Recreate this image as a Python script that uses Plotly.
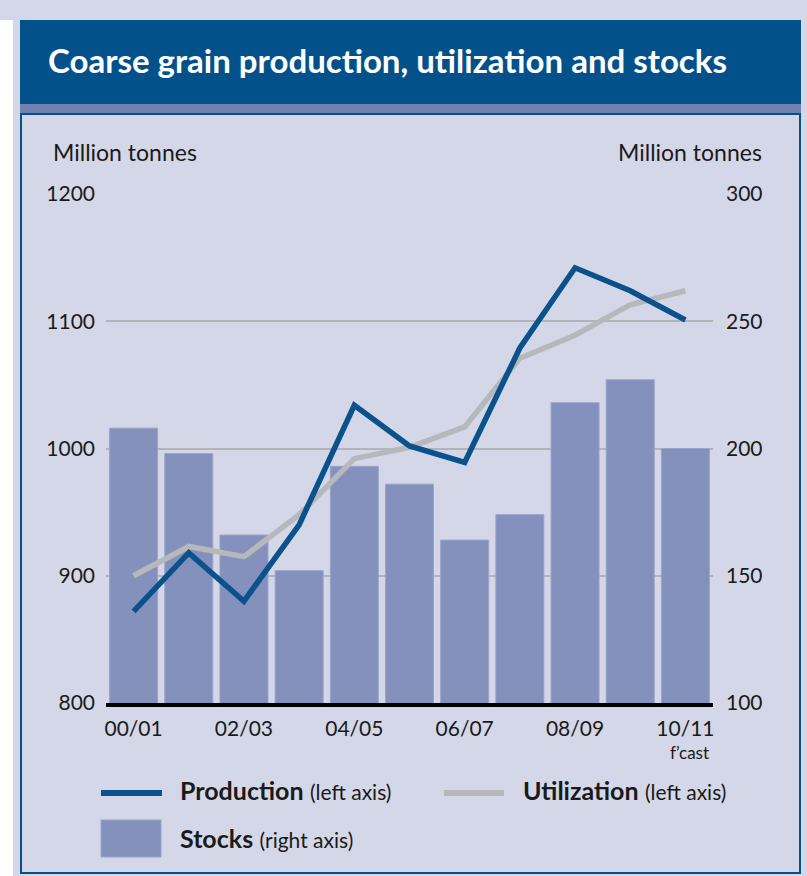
import plotly.graph_objects as go

# marketing years, one per bar
years = ["00/01", "01/02", "02/03", "03/04", "04/05", "05/06",
         "06/07", "07/08", "08/09", "09/10", "10/11"]
production = [872, 918, 880, 940, 1034, 1002, 989, 1079, 1142, 1124, 1101]
utilization = [900, 923, 915, 948, 992, 1001, 1017, 1071, 1089, 1113, 1124]
stocks = [208, 198, 166, 152, 193, 186, 164, 174, 218, 227, 200]

left_ticks = [800, 900, 1000, 1100, 1200]
right_ticks = [100, 150, 200, 250, 300]
x_labels = ["00/01", "02/03", "04/05", "06/07", "08/09", "10/11"]

W, H = 807, 876
FONT = "Lato"
BG = "#d4d7e7"
DARK_BLUE = "#03518b"
STRIP = "#7282b0"
PROD_COLOR = "#0b518c"
UTIL_COLOR = "#b7b8bb"
BAR_COLOR = "#8491bc"
TEXT = "#1a1a1a"


def px(x):
    return x / W


def py(y):
    return 1 - y / H


fig = go.Figure()

fig.add_trace(go.Bar(
    x=years, y=stocks, name="Stocks",
    marker=dict(color=BAR_COLOR, line=dict(color="#9aa4cc", width=1)),
    yaxis="y",
))
fig.add_trace(go.Scatter(
    x=years, y=utilization, name="Utilization", mode="lines",
    line=dict(color=UTIL_COLOR, width=5.5), yaxis="y2",
))
fig.add_trace(go.Scatter(
    x=years, y=production, name="Production", mode="lines",
    line=dict(color=PROD_COLOR, width=5.5), yaxis="y2",
))

shapes = [
    # white strip at far left
    dict(type="rect", xref="paper", yref="paper", x0=0, x1=px(13), y0=py(876), y1=py(20),
         fillcolor="white", line_width=0, layer="below"),
    # title bar
    dict(type="rect", xref="paper", yref="paper", x0=px(20), x1=px(801), y0=py(104), y1=py(20),
         fillcolor=DARK_BLUE, line_width=0, layer="below"),
    dict(type="rect", xref="paper", yref="paper", x0=px(20), x1=px(801), y0=py(113), y1=py(104),
         fillcolor=STRIP, line_width=0, layer="below"),
    # chart panel
    dict(type="rect", xref="paper", yref="paper", x0=px(21), x1=px(800), y0=py(873), y1=py(114),
         fillcolor=BG, line=dict(color=DARK_BLUE, width=2), layer="below"),
    # legend samples
    dict(type="line", xref="paper", yref="paper", x0=px(101), x1=px(162), y0=py(793), y1=py(793),
         line=dict(color=PROD_COLOR, width=6)),
    dict(type="line", xref="paper", yref="paper", x0=px(444), x1=px(504), y0=py(793), y1=py(793),
         line=dict(color=UTIL_COLOR, width=6)),
    dict(type="rect", xref="paper", yref="paper", x0=px(101), x1=px(161), y0=py(857), y1=py(820),
         fillcolor=BAR_COLOR, line=dict(color="#9aa4cc", width=1)),
]

annotations = [
    dict(text="<b>Coarse grain production, utilization and stocks</b>",
         x=px(46), y=py(60), xanchor="left", yanchor="middle",
         font=dict(family=FONT, size=33, color="white")),
    dict(text="Million tonnes", x=px(51), y=py(152), xanchor="left", yanchor="middle",
         font=dict(family=FONT, size=23, color=TEXT)),
    dict(text="Million tonnes", x=px(764), y=py(152), xanchor="right", yanchor="middle",
         font=dict(family=FONT, size=23, color=TEXT)),
    dict(text="f\u2019cast", x=px(689), y=py(752), xanchor="center", yanchor="middle",
         font=dict(family=FONT, size=17, color=TEXT)),
    dict(text="<b>Production</b> <span style='font-size:21px'>(left axis)</span>",
         x=px(178), y=py(790), xanchor="left", yanchor="middle",
         font=dict(family=FONT, size=25, color=TEXT)),
    dict(text="<b>Utilization</b> <span style='font-size:21px'>(left axis)</span>",
         x=px(521), y=py(790), xanchor="left", yanchor="middle",
         font=dict(family=FONT, size=25, color=TEXT)),
    dict(text="<b>Stocks</b> <span style='font-size:21px'>(right axis)</span>",
         x=px(178), y=py(838), xanchor="left", yanchor="middle",
         font=dict(family=FONT, size=25, color=TEXT)),
]
for a in annotations:
    a.update(xref="paper", yref="paper", showarrow=False)

fig.update_layout(
    width=W, height=H,
    margin=dict(l=0, r=0, t=0, b=0, autoexpand=False),
    paper_bgcolor=BG,
    plot_bgcolor="rgba(0,0,0,0)",
    showlegend=False,
    bargap=0.13,
    font=dict(family=FONT, size=20, color=TEXT),
    xaxis=dict(
        domain=[px(106), px(713)],
        type="category", automargin=False,
        tickmode="array", tickvals=x_labels, ticktext=x_labels,
        showline=True, linecolor="black", linewidth=4,
        ticks="", showgrid=False, ticklabelstandoff=4,
        tickfont=dict(family=FONT, size=21, color=TEXT),
    ),
    yaxis=dict(
        domain=[py(703), py(194)],
        side="right", range=[100, 300], automargin=False,
        tickmode="array", tickvals=right_ticks,
        showgrid=True, gridcolor="#b3b4b8", gridwidth=1.5,
        zeroline=False, showline=False, ticks="",
        ticklabelstandoff=12,
        tickfont=dict(family=FONT, size=21, color=TEXT),
    ),
    yaxis2=dict(
        overlaying="y", side="left", range=[800, 1200], automargin=False,
        tickmode="array", tickvals=left_ticks,
        showgrid=False, zeroline=False, showline=False, ticks="",
        ticklabelstandoff=10,
        tickfont=dict(family=FONT, size=21, color=TEXT),
    ),
    shapes=shapes,
    annotations=annotations,
)

fig.write_html("out.html", config={"displayModeBar": False},
               post_script="document.body.style.margin='0';")
